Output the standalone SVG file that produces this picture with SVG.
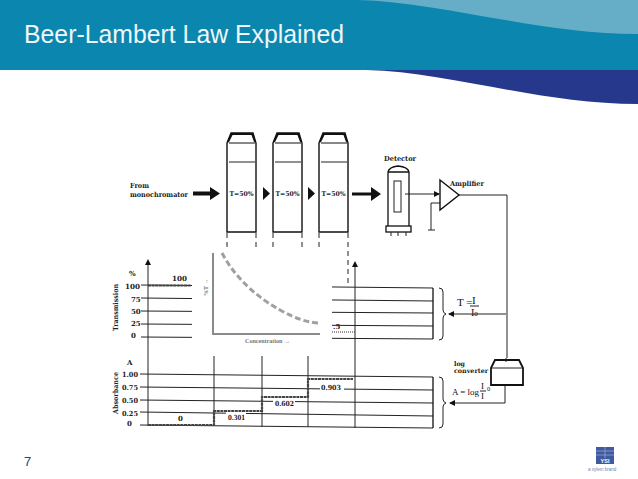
<svg xmlns="http://www.w3.org/2000/svg" width="638" height="479" viewBox="0 0 638 479">
<style>
.s{font-family:"DejaVu Serif","Liberation Serif",serif;font-weight:bold;fill:#222}
.t8{font-size:7px}
.t7{font-size:6.500px}
.n{font-family:"Liberation Serif",serif;font-weight:normal;fill:#111}
.l{stroke:#222;stroke-width:1;fill:none}
.m{stroke:#111;stroke-width:1.300;fill:none}
.d{stroke:#222;stroke-width:1;stroke-dasharray:5 4;fill:none}
.f{fill:#111;stroke:none}
.st{stroke:#444;stroke-width:2.200;stroke-dasharray:3 .6;fill:none}
.cuv{fill:#fff;stroke:#111;stroke-width:1.400}
</style>
<defs>
<marker id="ah" markerWidth="6" markerHeight="6" refX="5" refY="3" orient="auto" markerUnits="userSpaceOnUse"><path d="M0 0L6 3L0 6Z" fill="#111"/></marker>
<g id="cuvette">
<path class="cuv" d="M0 10L4 0H26L29 10V99H0Z"/>
<path d="M1 9L5 1H25L28 9" fill="none" stroke="#111" stroke-width="1.800"/>
<path d="M2 10H28" stroke="#111" stroke-width="1"/>
<path d="M2 29H28" stroke="#222" stroke-width="1"/>
</g>
</defs>
<rect width="638" height="479" fill="#fff"/>
<g id="header">
<rect width="638" height="70" fill="#0b86af"/>
<path d="M358 0C440 2 540 34 638 34V0Z" fill="#66aec8"/>
<path d="M366 70C450 72 540 104 638 104V70Z" fill="#26388b"/>
<text x="24" y="43" font-family="Liberation Sans,Arial,sans-serif" font-size="25" fill="#eef7fa" textLength="320" lengthAdjust="spacingAndGlyphs">Beer-Lambert Law Explained</text>
</g>
<g id="connectors">
<path class="d" d="M227 233V252M256 233V252M273 233V252M302 233V252M319 233V252M348 233V284"/>
<path class="f" d="M193 191.500H210V187L220 193.500L210 200V195.500H193Z"/>
<path class="f" d="M263 187L270 193.500L263 200Z"/>
<path class="f" d="M308 187L315 193.500L308 200Z"/>
<path class="f" d="M352 192.500H371V187L381 194L371 201V195.500H352Z"/>
<path class="l" d="M405 194H439" marker-end="url(#ah)"/>
<path class="l" d="M459 195H507V358"/>
<path class="l" d="M440 203H431V230M428 230H435"/>
<path class="l" d="M506 314H449" marker-end="url(#ah)"/>
<path class="l" d="M505 385V403H450" marker-end="url(#ah)"/>
</g>
<g id="transmission-plot">
<path class="l" d="M141 285L433 288M141 298L433 301M141 311L433 313M141 324L433 326M141 337L433 339"/>
<path class="m" d="M433 288V339"/>
<path class="l" d="M148 262V426"/>
<path class="f" d="M148 259L151 265H145Z"/>
<path class="l" d="M355 264V428"/>
<path class="f" d="M355 261L358 267H352Z"/>
<path class="st" d="M148 285.500H191"/>
<path stroke="#333" stroke-width="1.200" stroke-dasharray="1 1" d="M332 332H355"/>
<path class="l" d="M439 288Q443 288 443 292V310Q443 313 446 314Q443 315 443 318V336Q443 340 439 340"/>
<text class="s t8" transform="translate(118 331) rotate(-90)" textLength="47" lengthAdjust="spacingAndGlyphs">Transmission</text>
<g class="s t8"><text x="129" y="276">%</text><text x="172" y="281" textLength="15" lengthAdjust="spacingAndGlyphs">100</text><text x="125" y="289" textLength="15" lengthAdjust="spacingAndGlyphs">100</text><text x="131" y="302">75</text><text x="131" y="314">50</text><text x="131" y="326">25</text><text x="131" y="338">0</text><text x="333" y="329">.5</text></g>
</g>
<g id="inset-plot">
<rect x="192" y="250" width="140" height="95" fill="#fff"/>
<path stroke="#8a8a8a" stroke-width="2" fill="none" d="M213 253V334H320"/>
<path fill="none" stroke="#a0a0a0" stroke-width="3" stroke-dasharray="6 3" d="M222 253C235 278 258 298 280 310C295 318 305 322 318 323"/>
<text transform="translate(208 296) rotate(-90)" font-family="Liberation Serif,serif" font-weight="bold" font-size="6" fill="#777">%T →</text>
<text x="245" y="343" font-family="Liberation Serif,serif" font-weight="bold" font-size="5.500" fill="#777" textLength="45" lengthAdjust="spacingAndGlyphs">Concentration →</text>
</g>
<g id="absorbance-plot">
<path class="l" d="M140 374L433 377M140 387L433 390M140 400L433 403M140 412L433 416M140 425L433 428"/>
<path class="m" d="M433 377V428"/>
<path class="l" d="M214 356V426M262 356V427M308 356V427"/>
<rect x="226" y="412" width="20" height="9" fill="#fff"/><rect x="273" y="398" width="22" height="9" fill="#fff"/><rect x="320" y="381" width="24" height="10" fill="#fff"/>
<path class="st" d="M148 425H214V411H262V397H308V379H353"/>
<path class="l" d="M439 377Q443 377 443 381V399Q443 402 446 403Q443 404 443 407V424Q443 428 439 428"/>
<text class="s t8" transform="translate(118 414) rotate(-90)" textLength="42" lengthAdjust="spacingAndGlyphs">Absorbance</text>
<g class="s t8"><text x="127" y="365">A</text><text x="122" y="377" textLength="16" lengthAdjust="spacingAndGlyphs">1.00</text><text x="122" y="390" textLength="16" lengthAdjust="spacingAndGlyphs">0.75</text><text x="122" y="403" textLength="16" lengthAdjust="spacingAndGlyphs">0.50</text><text x="122" y="416" textLength="16" lengthAdjust="spacingAndGlyphs">0.25</text><text x="127" y="426">0</text><text x="178" y="421">0</text><text x="228" y="420" textLength="17" lengthAdjust="spacingAndGlyphs">0.301</text><text x="275" y="406" textLength="19" lengthAdjust="spacingAndGlyphs">0.602</text><text x="321" y="390" textLength="20" lengthAdjust="spacingAndGlyphs">0.903</text></g>
</g>
<g id="from-label" class="s t8"><text x="130" y="188" textLength="19" lengthAdjust="spacingAndGlyphs">From</text><text x="130" y="197" textLength="58" lengthAdjust="spacingAndGlyphs">monochromator</text></g>
<g id="cuvette-1"><use href="#cuvette" x="227" y="133"/><text class="s t7" x="229.500" y="196" textLength="24" lengthAdjust="spacingAndGlyphs">T=50%</text></g>
<g id="cuvette-2"><use href="#cuvette" x="273" y="133"/><text class="s t7" x="275.500" y="196" textLength="24" lengthAdjust="spacingAndGlyphs">T=50%</text></g>
<g id="cuvette-3"><use href="#cuvette" x="319" y="133"/><text class="s t7" x="321.500" y="196" textLength="24" lengthAdjust="spacingAndGlyphs">T=50%</text></g>
<g id="detector">
<text class="s t8" x="384" y="161" textLength="32" lengthAdjust="spacingAndGlyphs">Detector</text>
<path class="m" d="M388 226V172Q389 167 398 166Q408 167 409 172V226"/>
<path d="M388 172H409" stroke="#111" stroke-width="1.500"/>
<rect class="l" x="394" y="181" width="7" height="31"/>
<rect class="m" x="386" y="226" width="25" height="6"/>
<path class="l" d="M391 232V236M398 232V236M406 232V236"/>
</g>
<g id="amplifier">
<path d="M440 180L459 195L440 210Z" fill="#fff" stroke="#111" stroke-width="1.400"/>
<text class="s t8" x="450" y="186" textLength="34" lengthAdjust="spacingAndGlyphs">Amplifier</text>
</g>
<g id="log-converter">
<path d="M491 368L495 360H519L523 368V385H491Z" fill="#fff" stroke="#111" stroke-width="1.800"/>
<path class="l" d="M491 368H523M506 358V362"/>
<g class="s t7"><text x="454" y="366" textLength="11" lengthAdjust="spacingAndGlyphs">log</text><text x="454" y="373" textLength="34" lengthAdjust="spacingAndGlyphs">converter</text></g>
</g>
<g id="formulas">
<text class="n" x="457" y="306" font-size="11">T =</text><text class="n" x="472" y="304" font-size="11">I</text>
<path class="l" d="M470 306H479"/><text class="n" x="471" y="316" font-size="10">I<tspan font-size="7">0</tspan></text>
<text class="n" x="452" y="395" font-size="9">A = log</text><text class="n" x="481" y="389" font-size="9">I</text>
<path class="l" d="M480 391H486"/><text class="n" x="481" y="399" font-size="9">I</text><text class="n" x="487" y="391" font-size="6.500">0</text>
</g>
<g id="footer">
<text x="24" y="466" font-family="Liberation Sans,Arial,sans-serif" font-size="13" fill="#26466e">7</text>
<rect x="596" y="447" width="18" height="17" fill="#3f5a9e"/>
<path d="M596 451H614M596 455H614M605 447V458" stroke="#aebbdc" stroke-width=".600"/>
<text x="605" y="463" text-anchor="middle" font-family="Liberation Sans,Arial,sans-serif" font-weight="bold" font-size="5.500" fill="#fff">YSI</text>
<text x="588" y="471" font-family="Liberation Sans,Arial,sans-serif" font-size="4.500" fill="#6d7fae">a xylem brand</text>
</g>
</svg>
